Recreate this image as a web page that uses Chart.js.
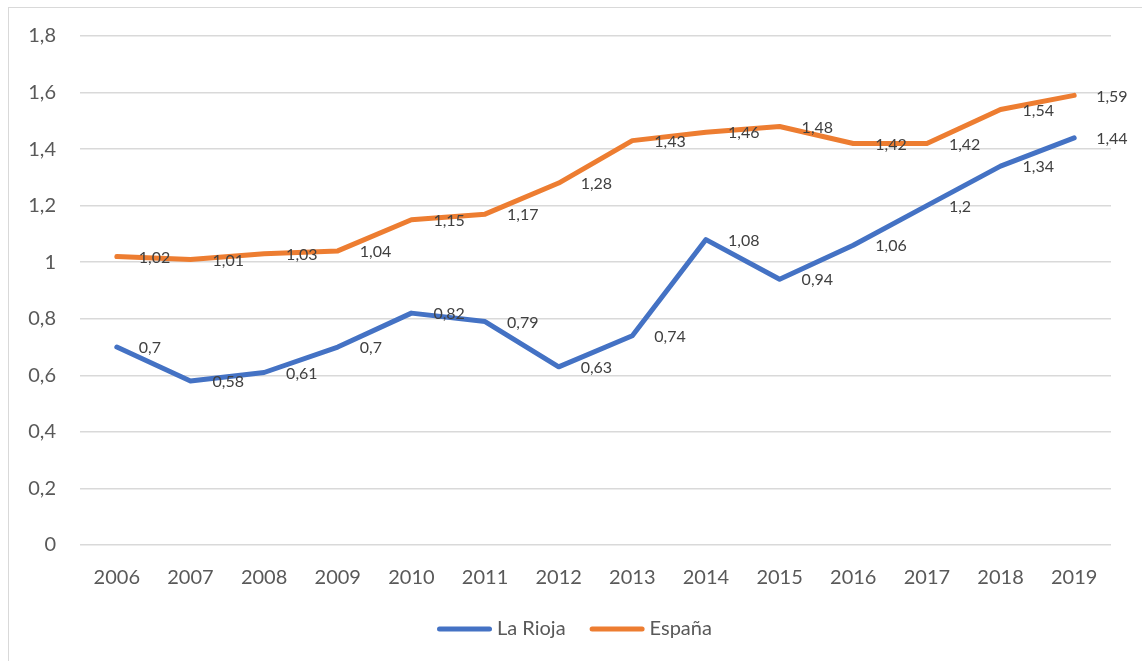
<!DOCTYPE html>
<html>
<head>
<meta charset="utf-8">
<script src="https://cdn.jsdelivr.net/npm/chart.js@4.4.0/dist/chart.umd.min.js"></script>
<style>
  html, body { margin: 0; padding: 0; background: #fff; }
  #frame { position: absolute; left: 8px; top: 7px; width: 1140px; height: 660px;
           border-left: 1px solid #d9d9d9; border-top: 1px solid #d9d9d9; }
  #chart { position: absolute; left: 0; top: 0; }
</style>
</head>
<body>
<div id="frame"></div>
<canvas id="chart" width="1142" height="661"></canvas>
<script>
// ── data ───────────────────────────────────────────────────────────
const YEARS    = ['2006', '2007', '2008', '2009', '2010', '2011', '2012',
                  '2013', '2014', '2015', '2016', '2017', '2018', '2019'];
const LA_RIOJA = [0.7, 0.58, 0.61, 0.7, 0.82, 0.79, 0.63, 0.74, 1.08, 0.94, 1.06, 1.2, 1.34, 1.44];
const ESPANA   = [1.02, 1.01, 1.03, 1.04, 1.15, 1.17, 1.28, 1.43, 1.46, 1.48, 1.42, 1.42, 1.54, 1.59];

const FONT  = 'Lato';
const TICKC = '#595959';
const GRID  = '#d9d9d9';

// decimal comma, no trailing zeros
const fmt = v => String(Math.round(v * 100) / 100).replace('.', ',');

// ── data labels to the right of each point ─────────────────────────
const pointLabels = {
  id: 'pointLabels',
  afterDatasetsDraw(chart) {
    const { ctx } = chart;
    ctx.save();
    ctx.font = `16px ${FONT}`;
    ctx.fillStyle = '#404040';
    ctx.textAlign = 'left';
    ctx.textBaseline = 'middle';
    chart.data.datasets.forEach((ds, i) => {
      chart.getDatasetMeta(i).data.forEach((pt, j) => {
        ctx.fillText(fmt(ds.data[j]), pt.x + 22, pt.y + 1);
      });
    });
    ctx.restore();
  },
};

// ── legend, Excel style (thick line + label) ───────────────────────
const bottomLegend = {
  id: 'bottomLegend',
  afterDraw(chart) {
    const { ctx } = chart;
    ctx.save();
    ctx.font = `20px ${FONT}`;
    ctx.textBaseline = 'middle';
    let x = 437;
    const y = 629;
    chart.data.datasets.forEach(ds => {
      ctx.strokeStyle = ds.borderColor;
      ctx.lineWidth = 5;
      ctx.lineCap = 'round';
      ctx.beginPath();
      ctx.moveTo(x + 2.5, y);
      ctx.lineTo(x + 52.5, y);
      ctx.stroke();
      ctx.fillStyle = TICKC;
      ctx.fillText(ds.label, x + 60, y);
      x += 60 + ctx.measureText(ds.label).width + 24;
    });
    ctx.restore();
  },
};

const lineStyle = {
  borderWidth: 5,
  pointRadius: 0,
  pointHoverRadius: 0,
  tension: 0,
  fill: false,
  borderJoinStyle: 'round',
  borderCapStyle: 'round',
};

new Chart(document.getElementById('chart').getContext('2d'), {
  type: 'line',
  data: {
    labels: YEARS,
    datasets: [
      { label: 'La Rioja', data: LA_RIOJA, borderColor: '#4472C4', ...lineStyle },
      { label: 'España',   data: ESPANA,   borderColor: '#ED7D31', ...lineStyle },
    ],
  },
  options: {
    responsive: false,
    animation: false,
    devicePixelRatio: 1,
    layout: { padding: { top: 35, right: 31, left: 0, bottom: 0 } },
    plugins: {
      legend: { display: false },
      tooltip: { enabled: false },
    },
    scales: {
      x: {
        offset: true,
        grid: { display: false, drawTicks: false },
        border: { display: false },
        ticks: { color: TICKC, font: { family: FONT, size: 20 }, padding: 21, maxRotation: 0 },
        afterFit: s => { s.height = 116; },
      },
      y: {
        min: 0,
        max: 1.8,
        grid: { color: GRID, lineWidth: 1.5, drawTicks: false },
        border: { display: false },
        ticks: {
          stepSize: 0.2,
          color: TICKC,
          font: { family: FONT, size: 20 },
          padding: 24,
          callback: v => fmt(v),
        },
        afterFit: s => { s.width = 80; },
      },
    },
  },
  plugins: [pointLabels, bottomLegend],
});
</script>
</body>
</html>
